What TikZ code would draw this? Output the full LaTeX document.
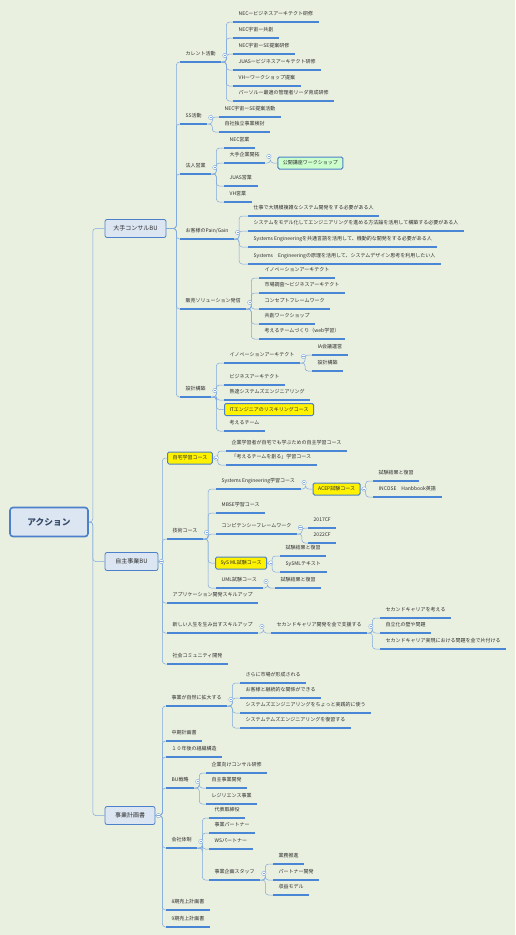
\documentclass[tikz,border=0pt]{standalone}
\usepackage{fontspec}
\setmainfont{Noto Sans CJK JP}
\definecolor{bgc}{RGB}{234,240,224}
\definecolor{linec}{RGB}{125,168,222}
\definecolor{ulc}{RGB}{74,134,214}
\definecolor{boxc}{RGB}{220,230,243}
\definecolor{edgec}{RGB}{76,128,200}
\definecolor{txtc}{RGB}{45,45,45}
\definecolor{roottxt}{RGB}{55,75,105}
\definecolor{gfc}{RGB}{204,255,204}

\begin{document}
\begin{tikzpicture}[
  x=1pt, y=-1pt,
  every node/.style={font=\fontsize{5}{6}\selectfont, text=txtc},
  uline/.style={draw=ulc, line width=1.1pt},
  topic/.style={anchor=south west, inner xsep=5.5pt, inner ysep=4.8pt,
                text height=4.3pt, text depth=1.2pt,
                append after command={(\tikzlastnode.south west) edge[uline] (\tikzlastnode.south east)}},
  rootbox/.style={draw=edgec, fill=boxc, line width=1.6pt, rounded corners=3pt,
                  minimum width=78pt, minimum height=29pt, text=roottxt,
                  font=\fontsize{8.7}{10}\selectfont\bfseries},
  mainbox/.style={draw=edgec, fill=boxc, line width=0.8pt, rounded corners=2pt,
                  minimum height=18pt, font=\fontsize{6}{7}\selectfont},
  hlbox/.style={draw=edgec, fill=yellow, line width=1pt, rounded corners=1.5pt,
                anchor=west, minimum height=12pt, inner xsep=5pt, inner ysep=1pt,
                text height=4.3pt, text depth=1.2pt},
  grbox/.style={hlbox, fill=gfc},
  fold/.style={circle, draw=linec, fill=white, minimum size=4.4pt, inner sep=0pt,
               path picture={\draw[linec, line width=0.4pt]
                 ([xshift=1.1pt]path picture bounding box.west) --
                 ([xshift=-1.1pt]path picture bounding box.east);}},
  link/.style={draw=linec, line width=0.5pt, rounded corners=3pt,
               to path={-- ++(#1,0) |- (\tikztotarget)}},
  link/.default=5
]
  \useasboundingbox (0,0) rectangle (515,935);
  \fill[bgc] (0,0) rectangle (515,935);

  % central topic and the three units
  \node[rootbox] (act) at (49,522) {アクション};
  \node[mainbox, minimum width=61pt] (bigc) at (135.5,228.5) {大手コンサルBU};
  \node[mainbox, minimum width=53pt] (self) at (131.5,561.5) {自主事業BU};
  \node[mainbox, minimum width=50pt] (plan) at (130,815.5) {事業計画書};
  \draw[link=4] (act.east) to (bigc.west);
  \draw[link=4] (act.east) to (self.west);
  \draw[link=4] (act.east) to (plan.west);

  % --- 大手コンサルBU
  \node[topic] (cur) at (180,62) {カレント活動};
  \node[topic] (ss) at (180,124) {SS活動};
  \node[topic] (corp) at (180,174) {法人営業};
  \node[topic] (pain) at (180,239) {お客様のPain/Gain};
  \node[topic] (sol) at (180,309) {販売ソリューション発信};
  \node[topic] (des) at (180,397) {設計構築};
  \draw[link=10] (bigc.east) to (cur.south west);
  \draw[link=10] (bigc.east) to (ss.south west);
  \draw[link=10] (bigc.east) to (corp.south west);
  \draw[link=10] (bigc.east) to (pain.south west);
  \draw[link=10] (bigc.east) to (sol.south west);
  \draw[link=10] (bigc.east) to (des.south west);

  \node[topic] (cur1) at (233,22) {NECービジネスアーキテクト研修};
  \node[topic] (cur2) at (233,38) {NEC宇宙ー共創};
  \node[topic] (cur3) at (233,54) {NEC宇宙ーSE提案研修};
  \node[topic] (cur4) at (233,70) {JUASービジネスアーキテクト研修};
  \node[topic] (cur5) at (233,86) {VHーワークショップ提案};
  \node[topic] (cur6) at (233,101) {パーソルー最適の管理者リーダ育成研修};
  \draw[link] (cur.south east) to (cur1.south west);
  \draw[link] (cur.south east) to (cur2.south west);
  \draw[link] (cur.south east) to (cur3.south west);
  \draw[link] (cur.south east) to (cur4.south west);
  \draw[link] (cur.south east) to (cur5.south west);
  \draw[link] (cur.south east) to (cur6.south west);

  \node[topic] (ss1) at (219,117) {NEC宇宙ーSE提案活動};
  \node[topic] (ss2) at (219,132) {自社独立事業検討};
  \draw[link] (ss.south east) to (ss1.south west);
  \draw[link] (ss.south east) to (ss2.south west);

  \node[topic] (corp1) at (224,148) {NEC営業};
  \node[topic] (corp2) at (224,163) {大手企業開拓};
  \node[topic] (corp3) at (224,186) {JUAS営業};
  \node[topic] (corp4) at (224,202) {VH営業};
  \node[grbox] (ws) at ([xshift=12pt]corp2.south east) {公開講座ワークショップ};
  \draw[link] (corp.south east) to (corp1.south west);
  \draw[link] (corp.south east) to (corp2.south west);
  \draw[link] (corp.south east) to (corp3.south west);
  \draw[link] (corp.south east) to (corp4.south west);
  \draw[link] (corp2.south east) to (ws.west);

  \node[topic] (pain1) at (248,216) {仕事で大規模複雑なシステム開発をする必要がある人};
  \node[topic] (pain2) at (248,231) {システムをモデル化してエンジニアリングを進める方法論を活用して構築する必要がある人};
  \node[topic] (pain3) at (248,247) {Systems Engineeringを共通言語を活用して、機動的な開発をする必要がある人};
  \node[topic] (pain4) at (248,264) {Systems　Engineeringの原理を活用して、システムデザイン思考を利用したい人};
  \draw[link] (pain.south east) to (pain1.south west);
  \draw[link] (pain.south east) to (pain2.south west);
  \draw[link] (pain.south east) to (pain3.south west);
  \draw[link] (pain.south east) to (pain4.south west);

  \node[topic] (sol1) at (259,278) {イノベーションアーキテクト};
  \node[topic] (sol2) at (259,293) {市場調査〜ビジネスアーキテクト};
  \node[topic] (sol3) at (259,309) {コンセプトフレームワーク};
  \node[topic] (sol4) at (259,324) {共創ワークショップ};
  \node[topic] (sol5) at (259,339) {考えるチームづくり（web学習）};
  \draw[link] (sol.south east) to (sol1.south west);
  \draw[link] (sol.south east) to (sol2.south west);
  \draw[link] (sol.south east) to (sol3.south west);
  \draw[link] (sol.south east) to (sol4.south west);
  \draw[link] (sol.south east) to (sol5.south west);

  \node[topic] (des1) at (224,363) {イノベーションアーキテクト};
  \node[topic] (des1a) at (312,355) {IA会議運営};
  \node[topic] (des1b) at (312,371) {設計構築};
  \node[topic] (des2) at (224,385) {ビジネスアーキテクト};
  \node[topic] (des3) at (224,400) {熟達システムズエンジニアリング};
  \node[hlbox] (des4) at (224,409.5) {ITエンジニアのリスキリングコース};
  \node[topic] (des5) at (224,431) {考えるチーム};
  \draw[link] (des.south east) to (des1.south west);
  \draw[link] (des1.south east) to (des1a.south west);
  \draw[link] (des1.south east) to (des1b.south west);
  \draw[link] (des.south east) to (des2.south west);
  \draw[link] (des.south east) to (des3.south west);
  \draw[link] (des.south east) to (des4.west);
  \draw[link] (des.south east) to (des5.south west);

  % --- 自主事業BU
  \node[hlbox] (home) at (167,458) {自宅学習コース};
  \node[topic] (tech) at (167,539) {技術コース};
  \node[topic] (app) at (167,603) {アプリケーション開発スキルアップ};
  \node[topic] (life) at (167,633) {新しい人生を生み出すスキルアップ};
  \node[topic] (soc) at (167,664) {社会コミュニティ開発};
  \draw[link=4] (self.east) to (home.west);
  \draw[link=4] (self.east) to (tech.south west);
  \draw[link=4] (self.east) to (app.south west);
  \draw[link=4] (self.east) to (life.south west);
  \draw[link=4] (self.east) to (soc.south west);

  \node[topic] (home1) at (226,451) {企業学習者が自宅でも学ぶための自主学習コース};
  \node[topic] (home2) at (226,465) {「考えるチームを創る」学習コース};
  \draw[link] (home.east) to (home1.south west);
  \draw[link] (home.east) to (home2.south west);

  \node[topic] (se) at (216,489) {Systems Engineering学習コース};
  \node[hlbox] (acep) at ([xshift=12pt]se.south east) {ACEP試験コース};
  \node[topic] (acep1) at (373,481) {試験結果と復習};
  \node[topic] (acep2) at (373,497) {INCOSE　Hanbbook英語};
  \node[topic] (mbse) at (216,513) {MBSE学習コース};
  \node[topic] (comp) at (216,534) {コンピテンシーフレームワーク};
  \node[topic] (comp1) at (308,528) {2017CF};
  \node[topic] (comp2) at (308,543) {2022CF};
  \node[hlbox] (sysml) at (215,563) {SyS ML試験コース};
  \node[topic] (sysml1) at (280,556) {試験結果と復習};
  \node[topic] (sysml2) at (280,572) {SySMLテキスト};
  \node[topic] (uml) at (216,588) {UML試験コース};
  \node[topic] (uml1) at (275,588) {試験結果と復習};
  \draw[link] (tech.south east) to (se.south west);
  \draw[link] (se.south east) to (acep.west);
  \draw[link] (acep.east) to (acep1.south west);
  \draw[link] (acep.east) to (acep2.south west);
  \draw[link] (tech.south east) to (mbse.south west);
  \draw[link] (tech.south east) to (comp.south west);
  \draw[link] (comp.south east) to (comp1.south west);
  \draw[link] (comp.south east) to (comp2.south west);
  \draw[link] (tech.south east) to (sysml.west);
  \draw[link] (sysml.east) to (sysml1.south west);
  \draw[link] (sysml.east) to (sysml2.south west);
  \draw[link] (tech.south east) to (uml.south west);
  \draw[link] (uml.south east) to (uml1.south west);

  \node[topic] (sec) at (271,633) {セカンドキャリア開発を金で支援する};
  \node[topic] (sec1) at (380,618) {セカンドキャリアを考える};
  \node[topic] (sec2) at (380,633) {自立化の壁や問題};
  \node[topic] (sec3) at (380,649) {セカンドキャリア実現における問題を金で片付ける};
  \draw[link] (life.south east) to (sec.south west);
  \draw[link] (sec.south east) to (sec1.south west);
  \draw[link] (sec.south east) to (sec2.south west);
  \draw[link] (sec.south east) to (sec3.south west);

  % --- 事業計画書
  \node[topic] (grow) at (166,706) {事業が自然に拡大する};
  \node[topic] (mid) at (166,741) {中期計画書};
  \node[topic] (ten) at (166,757) {１０年後の組織構造};
  \node[topic] (bu) at (166,788) {BU戦略};
  \node[topic] (org) at (166,848) {会社体制};
  \node[topic] (s8) at (166,910) {8期売上計画書};
  \node[topic] (s9) at (166,927) {9期売上計画書};
  \draw[link=7] (plan.east) to (grow.south west);
  \draw[link=7] (plan.east) to (mid.south west);
  \draw[link=7] (plan.east) to (ten.south west);
  \draw[link=7] (plan.east) to (bu.south west);
  \draw[link=7] (plan.east) to (org.south west);
  \draw[link=7] (plan.east) to (s8.south west);
  \draw[link=7] (plan.east) to (s9.south west);

  \node[topic] (grow1) at (240,683) {さらに市場が形成される};
  \node[topic] (grow2) at (240,698) {お客様と継続的な関係ができる};
  \node[topic] (grow3) at (240,713) {システムズエンジニアリングをちょっと実践的に使う};
  \node[topic] (grow4) at (240,728) {システムテムズエンジニアリングを復習する};
  \draw[link] (grow.south east) to (grow1.south west);
  \draw[link] (grow.south east) to (grow2.south west);
  \draw[link] (grow.south east) to (grow3.south west);
  \draw[link] (grow.south east) to (grow4.south west);

  \node[topic] (bu1) at (206,773) {企業向けコンサル研修};
  \node[topic] (bu2) at (206,788) {自主事業開発};
  \node[topic] (bu3) at (206,804) {レジリエンス事業};
  \draw[link] (bu.south east) to (bu1.south west);
  \draw[link] (bu.south east) to (bu2.south west);
  \draw[link] (bu.south east) to (bu3.south west);

  \node[topic] (org1) at (209,818) {代表取締役};
  \node[topic] (org2) at (209,833) {事業パートナー};
  \node[topic] (org3) at (209,849) {WSパートナー};
  \node[topic] (org4) at (209,880) {事業企画スタッフ};
  \node[topic] (org4a) at (273,864) {業務推進};
  \node[topic] (org4b) at (273,880) {パートナー開発};
  \node[topic] (org4c) at (273,895) {収益モデル};
  \draw[link] (org.south east) to (org1.south west);
  \draw[link] (org.south east) to (org2.south west);
  \draw[link] (org.south east) to (org3.south west);
  \draw[link] (org.south east) to (org4.south west);
  \draw[link] (org4.south east) to (org4a.south west);
  \draw[link] (org4.south east) to (org4b.south west);
  \draw[link] (org4.south east) to (org4c.south west);

  % collapse markers
  \node[fold] (f-self) at ([xshift=3pt]self.east) {};
  \node[fold] (f-plan) at ([xshift=3pt]plan.east) {};
  \node[fold] (f-cur) at ([shift={(3.5,-6.5)}]cur.south east) {};
  \node[fold] (f-ss) at ([shift={(3.5,-6.5)}]ss.south east) {};
  \node[fold] (f-corp) at ([shift={(3.5,-6.5)}]corp.south east) {};
  \node[fold] (f-corp2) at ([shift={(3.5,-6.5)}]corp2.south east) {};
  \node[fold] (f-pain) at ([shift={(3.5,-6.5)}]pain.south east) {};
  \node[fold] (f-sol) at ([shift={(3.5,-6.5)}]sol.south east) {};
  \node[fold] (f-des) at ([shift={(3.5,-6.5)}]des.south east) {};
  \node[fold] (f-des1) at ([shift={(3.5,-6.5)}]des1.south east) {};
  \node[fold] (f-home) at ([xshift=3.5pt]home.east) {};
  \node[fold] (f-tech) at ([shift={(3.5,-6.5)}]tech.south east) {};
  \node[fold] (f-se) at ([shift={(3.5,-6.5)}]se.south east) {};
  \node[fold] (f-acep) at ([xshift=3.5pt]acep.east) {};
  \node[fold] (f-comp) at ([shift={(3.5,-6.5)}]comp.south east) {};
  \node[fold] (f-sysml) at ([xshift=3.5pt]sysml.east) {};
  \node[fold] (f-uml) at ([shift={(3.5,-6.5)}]uml.south east) {};
  \node[fold] (f-life) at ([shift={(3.5,-6.5)}]life.south east) {};
  \node[fold] (f-sec) at ([shift={(3.5,-6.5)}]sec.south east) {};
  \node[fold] (f-grow) at ([shift={(3.5,-6.5)}]grow.south east) {};
  \node[fold] (f-bu) at ([shift={(3.5,-6.5)}]bu.south east) {};
  \node[fold] (f-org) at ([shift={(3.5,-6.5)}]org.south east) {};
  \node[fold] (f-org4) at ([shift={(3.5,-6.5)}]org4.south east) {};
\end{tikzpicture}
\end{document}
